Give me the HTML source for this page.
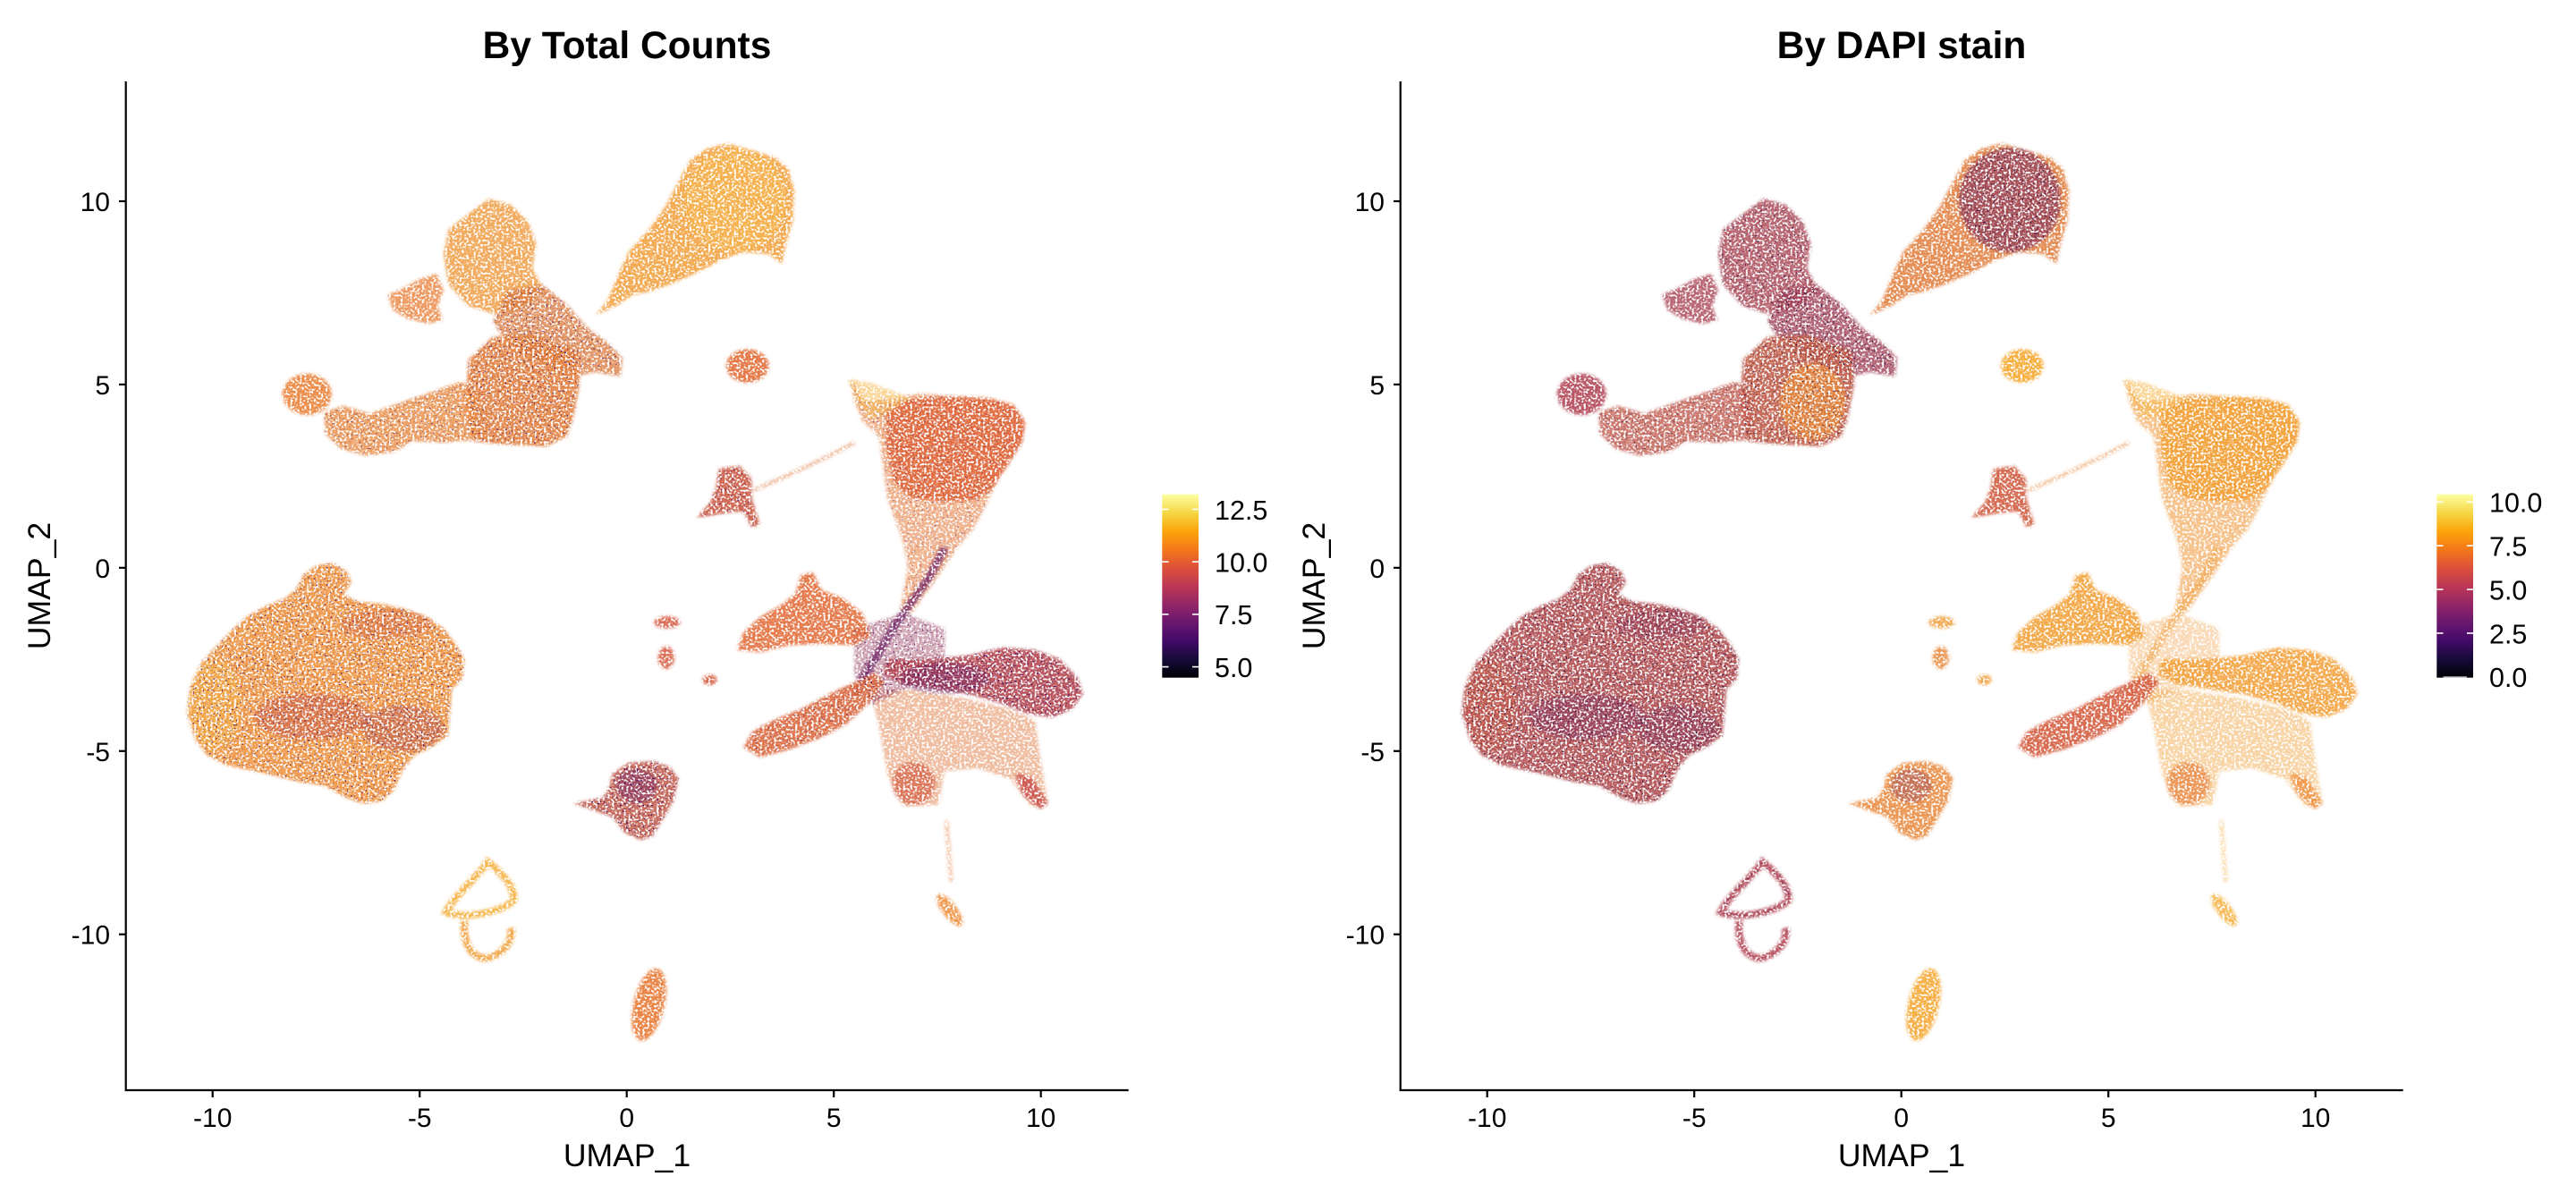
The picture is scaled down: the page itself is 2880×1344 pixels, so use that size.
<!DOCTYPE html>
<html>
<head>
<meta charset="utf-8">
<style>
html,body{margin:0;padding:0;background:#fff;width:2880px;height:1344px;overflow:hidden;}
svg{display:block;}
text{font-family:"Liberation Sans",Arial,sans-serif;fill:#000;}
</style>
</head>
<body>
<svg xmlns="http://www.w3.org/2000/svg" width="2880" height="1344" viewBox="0 0 2880 1344">
<rect width="2880" height="1344" fill="#fff"/>
<defs>
  <linearGradient id="inf" x1="0" y1="1" x2="0" y2="0">
    <stop offset="0" stop-color="#000004"/>
    <stop offset="0.1" stop-color="#160b39"/>
    <stop offset="0.2" stop-color="#420a68"/>
    <stop offset="0.3" stop-color="#6a176e"/>
    <stop offset="0.4" stop-color="#932667"/>
    <stop offset="0.5" stop-color="#bc3754"/>
    <stop offset="0.6" stop-color="#dd513a"/>
    <stop offset="0.7" stop-color="#f37819"/>
    <stop offset="0.8" stop-color="#fca50a"/>
    <stop offset="0.9" stop-color="#f6d746"/>
    <stop offset="1" stop-color="#fcffa4"/>
  </linearGradient>
  <filter id="spk" x="-5%" y="-5%" width="110%" height="110%" color-interpolation-filters="sRGB">
    <feGaussianBlur in="SourceGraphic" stdDeviation="2" result="b"/>
    <feTurbulence type="fractalNoise" baseFrequency="0.35" numOctaves="1" seed="4" result="t"/>
    <feColorMatrix in="t" type="matrix" values="0 0 0 0 0  0 0 0 0 0  0 0 0 0 0  0 0 0 -6 3.9" result="m"/>
    <feComposite in="b" in2="m" operator="in"/>
  </filter>
  <filter id="dk" x="-5%" y="-5%" width="110%" height="110%" color-interpolation-filters="sRGB">
    <feGaussianBlur in="SourceGraphic" stdDeviation="2" result="b"/>
    <feTurbulence type="fractalNoise" baseFrequency="0.4" numOctaves="1" seed="11" result="t"/>
    <feColorMatrix in="t" type="matrix" values="0 0 0 0 0  0 0 0 0 0  0 0 0 0 0  0 0 0 -14 5.0" result="m"/>
    <feComposite in="b" in2="m" operator="in"/>
  </filter>

  <path id="pA" d="M725,412 L740,392 750,365 765,330 790,300 810,270 825,240 840,210 860,195 885,188 915,197 945,207 960,222 967,250 965,290 957,318 952,345 935,332 905,330 878,340 850,356 820,370 795,380 770,386 750,400 Z"/>
  <ellipse id="pAh" cx="895" cy="262" rx="62" ry="68"/>
  <path id="pBl" d="M540,332 L546,300 570,280 595,260 622,268 643,290 653,320 648,350 662,380 640,402 600,410 570,400 546,372 Z"/>
  <path id="pBm" d="M618,380 L660,372 690,398 715,428 740,448 758,468 755,492 725,486 700,492 660,472 620,452 600,420 Z"/>
  <path id="pBb" d="M570,470 L600,440 650,438 702,458 706,500 698,545 690,570 665,583 630,581 600,579 575,576 567,530 Z"/>
  <ellipse id="pBo" cx="655" cy="525" rx="40" ry="50"/>
  <ellipse id="pBh" cx="374" cy="515" rx="30" ry="27"/>
  <path id="pBa" d="M395,538 L418,530 450,540 482,528 520,514 562,498 582,520 580,574 540,578 502,576 480,590 445,595 415,586 396,566 Z"/>
  <path id="pBs" d="M472,385 L492,376 512,364 532,358 540,380 533,400 539,419 520,423 495,416 478,405 Z"/>
  <ellipse id="pC" cx="910" cy="478" rx="26" ry="22"/>
  <path id="pD" d="M875,612 L900,608 915,625 915,650 925,685 915,688 905,668 895,668 870,672 848,676 865,655 872,635 Z"/>
  <path id="pDs" d="M918,640 L960,620 1000,600 1040,578"/>
  <path id="pE" d="M1035,495 L1055,525 1080,521 1120,514 1160,517 1200,519 1232,527 1248,550 1245,575 1232,600 1215,625 1200,660 1185,690 1165,715 1150,740 1130,770 1110,800 1095,800 1100,770 1105,740 1100,710 1090,680 1080,650 1075,610 1070,570 1050,550 1040,525 Z"/>
  <path id="pEh" d="M1078,535 L1110,520 1160,518 1205,520 1235,530 1248,552 1244,578 1228,605 1210,635 1190,652 1150,655 1110,650 1088,630 1080,590 Z"/>
  <path id="pEs" d="M1032,495 L1060,500 1090,512 1110,520 1080,540 1060,548 1045,530 Z"/>
  <path id="pStem" d="M1150,715 L1130,755 1110,785 1090,815 1070,850 1050,885 1040,910"/>
  <path id="pF1" d="M897,848 L905,825 925,805 950,790 968,775 975,750 990,747 1000,770 1025,780 1050,800 1060,830 1040,842 1000,840 960,842 925,851 Z"/>
  <path id="pF2" d="M905,975 L915,955 940,940 975,925 1010,905 1040,890 1065,878 1077,890 1055,920 1030,945 1000,962 960,978 925,988 Z"/>
  <path id="pF3" d="M1080,860 L1130,860 1180,855 1220,845 1260,848 1290,860 1312,885 1318,905 1305,925 1280,936 1250,931 1220,918 1180,906 1140,900 1100,893 1075,880 Z"/>
  <ellipse id="pF3p" cx="1150" cy="885" rx="55" ry="20"/>
  <path id="pF4" d="M1060,900 L1110,900 1170,910 1230,925 1260,940 1265,980 1276,1050 1255,1052 1230,1016 1190,1002 1150,1006 1142,1050 1100,1052 1080,1010 1072,960 Z"/>
  <ellipse id="pF4a" cx="1112" cy="1022" rx="26" ry="28"/>
  <path id="pF4b" d="M1236,1008 L1256,1014 1276,1048 1266,1056 1244,1036 Z"/>
  <path id="pFc" d="M1040,820 L1100,800 1150,820 1150,870 1100,900 1060,920 1040,880 Z"/>
  <path id="pG" d="M228,930 L232,895 245,865 262,845 280,825 300,805 325,790 345,782 360,770 370,750 385,738 405,735 422,745 428,760 418,775 435,785 465,788 495,795 520,805 540,820 555,840 565,860 563,885 550,900 548,930 545,960 525,975 505,985 490,1005 480,1030 465,1045 440,1048 420,1040 395,1025 365,1020 335,1012 305,1005 275,998 252,985 238,965 Z"/>
  <ellipse id="pGd1" cx="380" cy="935" rx="70" ry="30"/>
  <ellipse id="pGd2" cx="490" cy="950" rx="50" ry="30"/>
  <ellipse id="pGd3" cx="470" cy="815" rx="55" ry="20"/>
  <ellipse id="pGy" cx="262" cy="920" rx="32" ry="60"/>
  <path id="pH" d="M745,1010 L765,995 795,993 815,1000 826,1015 820,1045 806,1070 795,1090 780,1096 760,1086 746,1066 720,1056 698,1048 735,1040 742,1025 Z"/>
  <ellipse id="pHt" cx="775" cy="1025" rx="25" ry="22"/>
  <path id="pI1" d="M594,1124 C580,1145 552,1170 543,1190 C565,1198 605,1192 625,1175 C628,1158 612,1140 594,1124 Z"/>
  <path id="pI2" d="M566,1200 C563,1225 570,1246 590,1250 C610,1246 625,1230 622,1210"/>
  <ellipse id="pJ" cx="790" cy="1310" rx="19" ry="48" transform="rotate(12 790 1310)"/>
  <ellipse id="pK" cx="1156" cy="1187" rx="9" ry="25" transform="rotate(-35 1156 1187)"/>
  <path id="pKs" d="M1152,1070 L1155,1110 1158,1150"/>
  <ellipse id="pL1" cx="812" cy="812" rx="16" ry="8"/>
  <ellipse id="pL2" cx="811" cy="858" rx="10" ry="15"/>
  <ellipse id="pL3" cx="864" cy="887" rx="9" ry="7"/>
</defs>

<!-- ================= LEFT PANEL ================= -->
<g transform="translate(-0.23,-1.17) scale(0.91865,0.85832)">
  <g filter="url(#spk)">
    <use href="#pG" fill="#ee8f38" fill-opacity=".9"/>
    <use href="#pGy" fill="#f6b444" fill-opacity=".5"/>
    <use href="#pGd1" fill="#c45244" fill-opacity=".5"/>
    <use href="#pGd2" fill="#b04a4c" fill-opacity=".45"/>
    <use href="#pGd3" fill="#d0603e" fill-opacity=".4"/>
    <use href="#pA" fill="#f2a03c" fill-opacity=".9"/>
    <use href="#pAh" fill="#f7b84a" fill-opacity=".5"/>
    <use href="#pBl" fill="#ee9a3e" fill-opacity=".85"/>
    <use href="#pBm" fill="#dc7a3c" fill-opacity=".8"/>
    <use href="#pBb" fill="#e27c38" fill-opacity=".9"/>
    <use href="#pBh" fill="#ea8035" fill-opacity=".9"/>
    <use href="#pBa" fill="#e8863a" fill-opacity=".8"/>
    <use href="#pBs" fill="#e88038" fill-opacity=".8"/>
    <use href="#pC" fill="#e26c36" fill-opacity=".92"/>
    <use href="#pD" fill="#cc5840" fill-opacity=".9"/>
    <use href="#pDs" fill="none" stroke="#e07a40" stroke-width="5" stroke-opacity=".5"/>
    <use href="#pE" fill="#e88040" fill-opacity=".6"/>
    <use href="#pEh" fill="#e06638" fill-opacity=".9"/>
    <use href="#pEs" fill="#f5b545" fill-opacity=".55"/>
    <use href="#pF4" fill="#e07a40" fill-opacity=".5"/>
    <use href="#pFc" fill="#9a3a58" fill-opacity=".45"/>
    <use href="#pStem" fill="none" stroke="#6a1a60" stroke-width="10" stroke-opacity=".75"/>
    <use href="#pF1" fill="#e26c38" fill-opacity=".9"/>
    <use href="#pF2" fill="#dc6638" fill-opacity=".9"/>
    <use href="#pF3" fill="#b4444e" fill-opacity=".9"/>
    <use href="#pF3p" fill="#6a1a60" fill-opacity=".45"/>
    <use href="#pF4a" fill="#d45e40" fill-opacity=".75"/>
    <use href="#pF4b" fill="#c84a45" fill-opacity=".85"/>
    <use href="#pH" fill="#c05848" fill-opacity=".88"/>
    <use href="#pHt" fill="#6a1a60" fill-opacity=".45"/>
    <use href="#pI1" fill="none" stroke="#f5ae3a" stroke-width="9" stroke-opacity=".9"/>
    <use href="#pI2" fill="none" stroke="#f0a03a" stroke-width="9" stroke-opacity=".9"/>
    <use href="#pJ" fill="#e87a35" fill-opacity=".92"/>
    <use href="#pK" fill="#ee8c38" fill-opacity=".88"/>
    <use href="#pKs" fill="none" stroke="#e88040" stroke-width="5" stroke-opacity=".45"/>
    <use href="#pL1" fill="#d55a40" fill-opacity=".88"/>
    <use href="#pL2" fill="#d55a40" fill-opacity=".88"/>
    <use href="#pL3" fill="#d55a40" fill-opacity=".88"/>
  </g>
  <g filter="url(#dk)" fill="#4a1060">
    <use href="#pG" fill-opacity=".7"/>
    <use href="#pBb" fill-opacity=".7"/>
    <use href="#pBm" fill-opacity=".7"/>
    <use href="#pBa" fill-opacity=".5"/>
    <use href="#pF3"/>
    <use href="#pFc" fill-opacity=".7"/>
    <use href="#pH"/>
    <use href="#pD" fill-opacity=".7"/>
    <use href="#pF2" fill-opacity=".5"/>
    <use href="#pE" fill-opacity=".4"/>
  </g>
</g>

<!-- axes left -->
<g stroke="#000" stroke-width="2.2" fill="none">
  <polyline points="140.7,91 140.7,1219 1261.7,1219" stroke-linejoin="miter"/>
  <line x1="237.7" y1="1219" x2="237.7" y2="1227"/>
  <line x1="469.2" y1="1219" x2="469.2" y2="1227"/>
  <line x1="700.7" y1="1219" x2="700.7" y2="1227"/>
  <line x1="932.2" y1="1219" x2="932.2" y2="1227"/>
  <line x1="1163.7" y1="1219" x2="1163.7" y2="1227"/>
  <line x1="133" y1="225" x2="140.7" y2="225"/>
  <line x1="133" y1="429.9" x2="140.7" y2="429.9"/>
  <line x1="133" y1="634.85" x2="140.7" y2="634.85"/>
  <line x1="133" y1="839.8" x2="140.7" y2="839.8"/>
  <line x1="133" y1="1044.7" x2="140.7" y2="1044.7"/>
</g>
<g font-size="30" text-anchor="middle">
  <text x="237.7" y="1260">-10</text>
  <text x="469.2" y="1260">-5</text>
  <text x="700.7" y="1260">0</text>
  <text x="932.2" y="1260">5</text>
  <text x="1163.7" y="1260">10</text>
</g>
<g font-size="30" text-anchor="end">
  <text x="123" y="236">10</text>
  <text x="123" y="440.9">5</text>
  <text x="123" y="645.85">0</text>
  <text x="123" y="850.8">-5</text>
  <text x="123" y="1055.7">-10</text>
</g>
<text x="701" y="1304" font-size="35.6" text-anchor="middle">UMAP_1</text>
<text transform="translate(56,655) rotate(-90)" font-size="35.6" text-anchor="middle">UMAP_2</text>
<text x="701" y="65" font-size="42.5" font-weight="bold" text-anchor="middle">By Total Counts</text>

<!-- legend left -->
<rect x="1299.3" y="552.7" width="40.7" height="205" fill="url(#inf)"/>
<g stroke="#fff" stroke-width="1.6">
  <line x1="1299.3" y1="569.5" x2="1306.5" y2="569.5"/><line x1="1333" y1="569.5" x2="1340" y2="569.5"/>
  <line x1="1299.3" y1="628.2" x2="1306.5" y2="628.2"/><line x1="1333" y1="628.2" x2="1340" y2="628.2"/>
  <line x1="1299.3" y1="686.9" x2="1306.5" y2="686.9"/><line x1="1333" y1="686.9" x2="1340" y2="686.9"/>
  <line x1="1299.3" y1="745.6" x2="1306.5" y2="745.6"/><line x1="1333" y1="745.6" x2="1340" y2="745.6"/>
</g>
<g font-size="30.5">
  <text x="1358" y="580.8">12.5</text>
  <text x="1358" y="639.5">10.0</text>
  <text x="1358" y="698.2">7.5</text>
  <text x="1358" y="756.9">5.0</text>
</g>

<!-- ================= RIGHT PANEL ================= -->
<g transform="translate(1424.77,-1.17) scale(0.91865,0.85832)">
  <g filter="url(#spk)">
    <use href="#pG" fill="#b04a4c" fill-opacity=".9"/>
    <use href="#pGy" fill="#c85a44" fill-opacity=".5"/>
    <use href="#pGd1" fill="#7a2a58" fill-opacity=".45"/>
    <use href="#pGd2" fill="#7a2a58" fill-opacity=".4"/>
    <use href="#pGd3" fill="#8a3056" fill-opacity=".35"/>
    <use href="#pA" fill="#e07c3a" fill-opacity=".88"/>
    <use href="#pAh" fill="#86305a" fill-opacity=".65"/>
    <use href="#pBl" fill="#a8404e" fill-opacity=".8"/>
    <use href="#pBm" fill="#a03e55" fill-opacity=".8"/>
    <use href="#pBb" fill="#c05a45" fill-opacity=".9"/>
    <use href="#pBo" fill="#ee9038" fill-opacity=".7"/>
    <use href="#pBh" fill="#b04454" fill-opacity=".9"/>
    <use href="#pBa" fill="#c0584a" fill-opacity=".8"/>
    <use href="#pBs" fill="#a84050" fill-opacity=".8"/>
    <use href="#pC" fill="#f6a830" fill-opacity=".92"/>
    <use href="#pD" fill="#cf5a3e" fill-opacity=".9"/>
    <use href="#pDs" fill="none" stroke="#e8883a" stroke-width="5" stroke-opacity=".5"/>
    <use href="#pE" fill="#f0983a" fill-opacity=".6"/>
    <use href="#pEh" fill="#f3a035" fill-opacity=".9"/>
    <use href="#pEs" fill="#f5b545" fill-opacity=".55"/>
    <use href="#pF4" fill="#f2a848" fill-opacity=".5"/>
    <use href="#pFc" fill="#f0a048" fill-opacity=".4"/>
    <use href="#pStem" fill="none" stroke="#f0a040" stroke-width="10" stroke-opacity=".55"/>
    <use href="#pF1" fill="#f2a035" fill-opacity=".9"/>
    <use href="#pF2" fill="#d45a3c" fill-opacity=".9"/>
    <use href="#pF3" fill="#f3a038" fill-opacity=".9"/>
    <use href="#pF4a" fill="#e8803a" fill-opacity=".75"/>
    <use href="#pF4b" fill="#f09040" fill-opacity=".85"/>
    <use href="#pH" fill="#e8883a" fill-opacity=".88"/>
    <use href="#pHt" fill="#6a1a60" fill-opacity=".3"/>
    <use href="#pI1" fill="none" stroke="#b04050" stroke-width="9" stroke-opacity=".9"/>
    <use href="#pI2" fill="none" stroke="#b04050" stroke-width="9" stroke-opacity=".9"/>
    <use href="#pJ" fill="#f5a835" fill-opacity=".92"/>
    <use href="#pK" fill="#f5b040" fill-opacity=".88"/>
    <use href="#pKs" fill="none" stroke="#f5b040" stroke-width="5" stroke-opacity=".45"/>
    <use href="#pL1" fill="#f0a040" fill-opacity=".88"/>
    <use href="#pL2" fill="#e8883a" fill-opacity=".88"/>
    <use href="#pL3" fill="#f0a040" fill-opacity=".88"/>
  </g>
  <g filter="url(#dk)" fill="#2a0a40">
    <use href="#pG" fill-opacity=".8"/>
    <use href="#pAh" fill-opacity=".8"/>
    <use href="#pBl" fill-opacity=".7"/>
    <use href="#pBm" fill-opacity=".8"/>
    <use href="#pBb" fill-opacity=".6"/>
    <use href="#pBa" fill-opacity=".5"/>
    <use href="#pI1" fill="none" stroke="#2a0a40" stroke-width="9" stroke-opacity=".5"/>
  </g>
</g>

<!-- axes right -->
<g stroke="#000" stroke-width="2.2" fill="none">
  <polyline points="1565.7,91 1565.7,1219 2686.7,1219" stroke-linejoin="miter"/>
  <line x1="1662.7" y1="1219" x2="1662.7" y2="1227"/>
  <line x1="1894.2" y1="1219" x2="1894.2" y2="1227"/>
  <line x1="2125.7" y1="1219" x2="2125.7" y2="1227"/>
  <line x1="2357.2" y1="1219" x2="2357.2" y2="1227"/>
  <line x1="2588.7" y1="1219" x2="2588.7" y2="1227"/>
  <line x1="1558" y1="225" x2="1565.7" y2="225"/>
  <line x1="1558" y1="429.9" x2="1565.7" y2="429.9"/>
  <line x1="1558" y1="634.85" x2="1565.7" y2="634.85"/>
  <line x1="1558" y1="839.8" x2="1565.7" y2="839.8"/>
  <line x1="1558" y1="1044.7" x2="1565.7" y2="1044.7"/>
</g>
<g font-size="30" text-anchor="middle">
  <text x="1662.7" y="1260">-10</text>
  <text x="1894.2" y="1260">-5</text>
  <text x="2125.7" y="1260">0</text>
  <text x="2357.2" y="1260">5</text>
  <text x="2588.7" y="1260">10</text>
</g>
<g font-size="30" text-anchor="end">
  <text x="1548" y="236">10</text>
  <text x="1548" y="440.9">5</text>
  <text x="1548" y="645.85">0</text>
  <text x="1548" y="850.8">-5</text>
  <text x="1548" y="1055.7">-10</text>
</g>
<text x="2126" y="1304" font-size="35.6" text-anchor="middle">UMAP_1</text>
<text transform="translate(1481,655) rotate(-90)" font-size="35.6" text-anchor="middle">UMAP_2</text>
<text x="2126" y="65" font-size="42.5" font-weight="bold" text-anchor="middle">By DAPI stain</text>

<!-- legend right -->
<rect x="2724.3" y="552.7" width="40.7" height="205" fill="url(#inf)"/>
<g stroke="#fff" stroke-width="1.6">
  <line x1="2724.3" y1="561.3" x2="2731.5" y2="561.3"/><line x1="2758" y1="561.3" x2="2765" y2="561.3"/>
  <line x1="2724.3" y1="610.2" x2="2731.5" y2="610.2"/><line x1="2758" y1="610.2" x2="2765" y2="610.2"/>
  <line x1="2724.3" y1="659.1" x2="2731.5" y2="659.1"/><line x1="2758" y1="659.1" x2="2765" y2="659.1"/>
  <line x1="2724.3" y1="708" x2="2731.5" y2="708"/><line x1="2758" y1="708" x2="2765" y2="708"/>
  <line x1="2731.5" y1="757" x2="2758" y2="757" stroke-width="1"/>
</g>
<g font-size="30.5">
  <text x="2783" y="572.6">10.0</text>
  <text x="2783" y="621.5">7.5</text>
  <text x="2783" y="670.4">5.0</text>
  <text x="2783" y="719.3">2.5</text>
  <text x="2783" y="768.2">0.0</text>
</g>
</svg>
</body>
</html>
